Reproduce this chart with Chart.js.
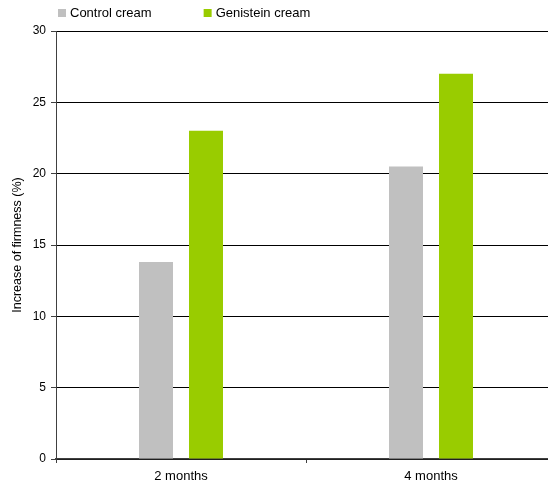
<!DOCTYPE html>
<html>
<head>
<meta charset="utf-8">
<script src="https://cdn.jsdelivr.net/npm/chart.js@4/dist/chart.umd.min.js"></script>
<style>
  html, body { margin: 0; padding: 0; background: #fff; overflow: hidden; }
  #wrap { width: 556px; height: 486px; }
</style>
</head>
<body>
<div id="wrap"><canvas id="chart"></canvas></div>
<script>
// chart values
const periods = ['2 months', '4 months'];
const controlCream = [13.8, 20.5];
const genisteinCream = [23.0, 27.0];
const yTicks = [0, 5, 10, 15, 20, 25, 30];

const FONT = "'Liberation Sans', Arial, sans-serif";

const C = {
  control: '#C0C0C0',
  genistein: '#99CC00',
  grid: '#000000',
  axis: '#404040',
  text: '#000000'
};

// simple top-left legend drawn on the canvas
const topLegend = {
  id: 'topLegend',
  afterDraw(chart) {
    const ctx = chart.ctx;
    ctx.save();
    ctx.font = '13px ' + FONT;
    ctx.textBaseline = 'middle';
    let x = 58;
    const y = 13;
    chart.data.datasets.forEach(ds => {
      ctx.fillStyle = ds.backgroundColor;
      ctx.fillRect(x, y - 4, 8, 8);
      ctx.fillStyle = C.text;
      ctx.fillText(ds.label, x + 12, y);
      x += 12 + ctx.measureText(ds.label).width + 52;
    });
    ctx.restore();
  }
};

new Chart(document.getElementById('chart'), {
  type: 'bar',
  data: {
    labels: periods,
    datasets: [
      { label: 'Control cream', data: controlCream, backgroundColor: C.control,
        categoryPercentage: 0.40, barPercentage: 0.68 },
      { label: 'Genistein cream', data: genisteinCream, backgroundColor: C.genistein,
        categoryPercentage: 0.40, barPercentage: 0.68 }
    ]
  },
  options: {
    responsive: true,
    maintainAspectRatio: false,
    animation: false,
    layout: { padding: { top: 31, right: 0, left: 0, bottom: 0 } },
    plugins: {
      legend: { display: false },
      tooltip: { enabled: false }
    },
    scales: {
      x: {
        afterFit(scale) { scale.height = 27; },
        grid: { drawOnChartArea: false, drawTicks: true, tickLength: 4, color: C.axis, offset: true },
        border: { color: C.axis, width: 1.5 },
        ticks: { font: { family: FONT, size: 13 }, color: C.text, padding: 6 }
      },
      y: {
        min: 0,
        max: 30,
        afterBuildTicks(scale) { scale.ticks = yTicks.map(v => ({ value: v })); },
        afterFit(scale) { scale.width = 56; },
        grid: { color: C.grid, lineWidth: 1, tickLength: 5, tickColor: C.axis },
        border: { color: C.axis, width: 1 },
        ticks: { font: { family: FONT, size: 12 }, color: C.text, padding: 5 },
        title: {
          display: true,
          text: 'Increase of firmness (%)',
          font: { family: FONT, size: 12.5 },
          color: C.text,
          padding: { top: 10, bottom: 0 }
        }
      }
    }
  },
  plugins: [topLegend]
});
</script>
</body>
</html>
